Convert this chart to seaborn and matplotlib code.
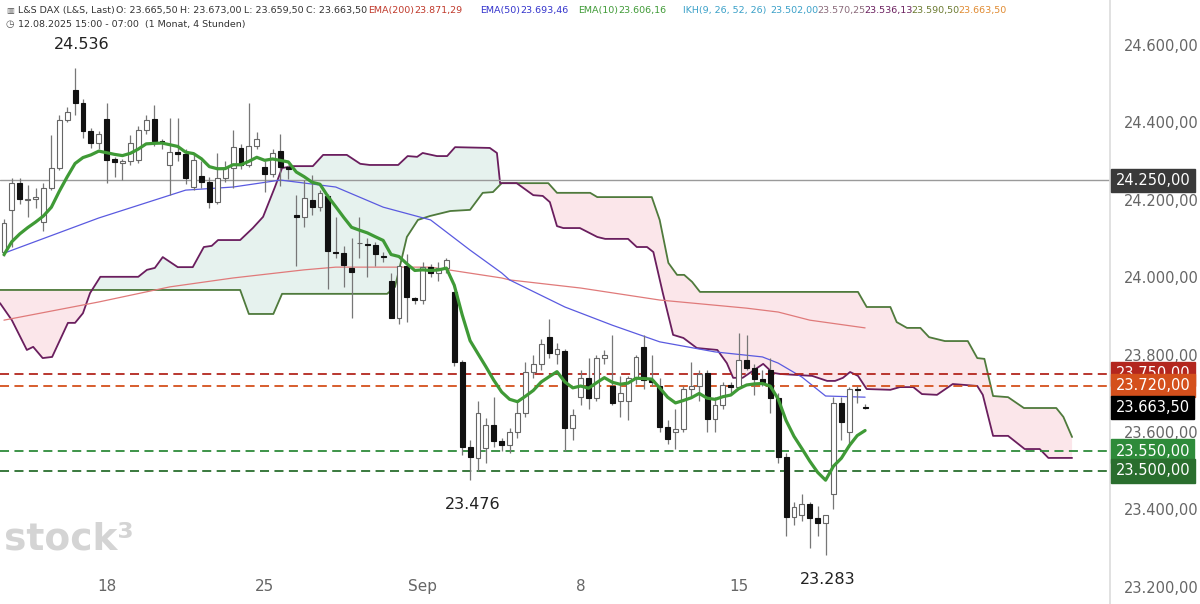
import numpy as np
import pandas as pd
import matplotlib
matplotlib.use("Agg")
import matplotlib.pyplot as plt
import seaborn as sns

# ---------------- data (4h candles) ----------------
opens = [24065,24174,24243,24200,24203,24143,24230,24282,24406,24484,24450,24378,24347,24410,24306,24296,24300,24303,24380,24408,
         24352,24290,24323,24318,24233,24262,24246,24194,24256,24282,24334,24290,24339,24285,24267,24325,24285,24160,24155,24200,
         24181,24210,24066,24062,24025,24088,24086,24083,24055,23990,23895,24030,23945,23940,24026,24010,24025,23962,23780,23560,
         23533,23558,23618,23577,23566,23600,23650,23755,23775,23845,23802,23810,23610,23690,23740,23688,23790,23720,23680,23680,
         23740,23820,23735,23720,23612,23600,23608,23710,23720,23752,23633,23670,23722,23715,23785,23765,23737,23760,23688,23535,
         23380,23385,23415,23378,23365,23440,23675,23600,23710,23665]
highs = [24150,24256,24256,24238,24230,24243,24367,24419,24440,24540,24460,24385,24378,24450,24310,24305,24367,24390,24420,24445,
         24356,24411,24411,24330,24320,24300,24260,24320,24300,24380,24345,24450,24375,24300,24330,24370,24290,24212,24250,24265,
         24225,24215,24155,24080,24100,24155,24100,24090,24065,24010,24030,24060,23950,24040,24035,24040,24050,23965,23785,23580,
         23680,23635,23690,23585,23610,23680,23780,23800,23840,23892,23830,23815,23660,23760,23790,23800,23812,23850,23745,23745,
         23800,23850,23800,23740,23630,23660,23720,23780,23760,23760,23690,23730,23730,23855,23850,23775,23760,23790,23700,23545,
         23420,23440,23420,23410,23380,23690,23690,23715,23720,23673]
lows = [24055,24078,24190,24156,24180,24120,24225,24276,24400,24420,24360,24335,24330,24243,24260,24250,24290,24295,24370,24340,
        24330,24212,24300,24240,24225,24230,24180,24190,24245,24230,24280,24285,24330,24220,24260,24235,24255,24030,24130,24160,
        24170,23970,24050,23975,23895,24050,24000,24030,24040,23895,23880,23885,23930,23930,24000,23990,24010,23770,23540,23476,
        23500,23520,23560,23550,23545,23585,23640,23740,23760,23790,23775,23550,23580,23670,23660,23680,23775,23670,23640,23630,
        23725,23710,23720,23600,23570,23555,23600,23690,23680,23600,23600,23660,23700,23710,23760,23695,23720,23650,23520,23330,
        23360,23370,23300,23330,23283,23400,23580,23560,23675,23659]
closes = [24140,24243,24202,24201,24207,24230,24282,24406,24427,24450,24378,24347,24370,24303,24298,24300,24347,24380,24405,24352,
          24350,24323,24318,24256,24303,24246,24194,24256,24282,24336,24290,24339,24357,24267,24321,24285,24280,24155,24205,24181,
          24217,24068,24062,24031,24013,24088,24083,24060,24052,23895,24030,23950,23940,24026,24010,24025,24045,23780,23560,23535,
          23650,23618,23577,23566,23600,23650,23755,23775,23828,23804,23815,23610,23645,23740,23688,23790,23800,23675,23700,23740,
          23795,23735,23730,23612,23582,23608,23710,23720,23750,23633,23670,23722,23715,23785,23765,23737,23730,23688,23535,23380,
          23405,23415,23378,23365,23385,23675,23625,23710,23708,23663]
ema10_seed = 24040

ema50_idx = [0,12,23,29,35,42,48,54,59,63,64,71,77,83,90,96,98,101,104,109]
ema50_val = [24062,24153,24225,24233,24251,24233,24181,24148,24070,24011,23993,23923,23876,23833,23807,23794,23778,23742,23693,23690]
ema200_idx = [0,12,21,29,38,42,54,63,64,73,83,94,98,102,109]
ema200_val = [23889,23936,23975,23998,24019,24026,24026,23998,23993,23972,23941,23920,23910,23889,23869]

spanA_idx = [-0.5,29.9,31.0,34.1,35.2,48.5,49.5,51.0,52.4,53.9,56.5,59.0,60.6,61.9,63.0,68.9,70.0,74.2,75.1,82.0,83.0,84.1,85.2,
             86.1,87.1,88.1,108.1,109.2,112.2,113.0,114.3,116.0,117.1,119.1,122.0,123.2,124.1,125.2,127.1,129.1,133.2,134.1,135.2]
spanA_val = [23967,23967,23905,23905,23957,23957,23975,24104,24148,24158,24171,24174,24218,24220,24243,24243,24218,24218,24207,
             24207,24148,24037,24006,24006,23988,23962,23962,23923,23923,23884,23869,23869,23845,23835,23835,23791,23789,23693,
             23690,23662,23662,23639,23587]
spanB_idx = [-0.5,1.0,2.9,3.7,4.9,6.1,8.1,9.0,10.0,10.9,12.2,17.0,18.1,19.1,20.1,22.0,23.9,25.3,26.3,27.1,29.9,31.5,32.8,34.3,
             35.2,36.6,39.1,40.4,43.4,45.1,46.3,49.9,51.1,52.3,53.0,54.8,56.1,57.1,61.5,62.4,62.8,64.9,67.0,68.2,69.1,70.0,70.8,
             72.9,75.1,76.1,79.0,80.1,81.4,82.2,83.4,84.7,86.0,87.7,90.3,91.5,92.3,93.5,96.1,97.3,98.2,102.3,104.2,105.2,106.2,
             107.1,108.1,109.2,112.2,113.4,115.1,116.2,118.1,120.1,123.2,123.9,125.2,127.1,129.2,131.1,132.2,135.2]
spanB_val = [23933,23889,23812,23820,23791,23794,23882,23882,23907,23959,24001,24001,24019,24024,24052,24026,24026,24078,24081,
             24096,24096,24127,24156,24233,24282,24287,24287,24316,24316,24293,24290,24290,24313,24311,24321,24313,24313,24336,
             24334,24321,24243,24243,24212,24210,24194,24132,24127,24127,24104,24099,24099,24078,24078,24065,23959,23851,23843,
             23817,23812,23778,23740,23740,23776,23753,23750,23745,23732,23732,23740,23755,23745,23711,23709,23716,23716,23698,
             23696,23724,23719,23696,23590,23590,23556,23556,23533,23533]

ytick_vals = [23200,23400,23600,23800,24000,24200,24400,24600]
xtick_idx = [13,33,53,73,93]
xtick_lab = ["18","25","Sep","8","15"]
levels = [(24250,"24.250,00","#3a3a3a"),(23750,"23.750,00","#b3261e"),(23720,"23.720,00","#d4501c"),
          (23663.5,"23.663,50","#000000"),(23550,"23.550,00","#2e8b3a"),(23500,"23.500,00","#2a6e2e")]
extremes = [(9,24536,"24.536","top"),(59,23476,"23.476","bot"),(104,23283,"23.283","bot")]

# ---------------- figure ----------------
sns.set_theme(style="white")
fig = plt.figure(figsize=(12,6.04), dpi=100)
ax = fig.add_axes([0,0,1110/1200,1])
ymin = 24600-(604-45)*200/77.4
ymax = 24600+45*200/77.4
ax.set_ylim(ymin,ymax)
ax.set_xlim(-0.5,140)

n = len(closes)
idx = np.arange(n)
df = pd.DataFrame(dict(i=idx,o=opens,h=highs,l=lows,c=closes))

# cloud
grid = np.linspace(-0.5,135.2,1500)
a = np.interp(grid,spanA_idx,spanA_val)
b = np.interp(grid,spanB_idx,spanB_val)
ax.fill_between(grid,a,b,where=b>=a,color="#e6f2ee",interpolate=True,lw=0,zorder=1)
ax.fill_between(grid,a,b,where=b<a,color="#fbe6ea",interpolate=True,lw=0,zorder=1)
sns.lineplot(x=spanA_idx,y=spanA_val,ax=ax,color="#4f7a3c",lw=1.3,zorder=2)
sns.lineplot(x=spanB_idx,y=spanB_val,ax=ax,color="#6a1e5e",lw=1.3,zorder=2)

# EMAs
sns.lineplot(x=ema200_idx,y=ema200_val,ax=ax,color="#e07a7a",lw=0.9,zorder=3)
sns.lineplot(x=ema50_idx,y=ema50_val,ax=ax,color="#5a5ae0",lw=0.9,zorder=3)
ema10 = pd.Series([ema10_seed]+closes).ewm(span=10,adjust=False).mean().values[1:]
sns.lineplot(x=idx,y=ema10,ax=ax,color="#3f9a36",lw=2.3,zorder=6)

# levels
for v,lab,col in levels:
    if v == 24250:
        ax.axhline(v,color="#9a9a9a",lw=1,zorder=2)
    elif v != 23663.5:
        ax.axhline(v,color=col,lw=1.3,ls=(0,(5,3)),zorder=4)
    ax.annotate(lab,xy=(1.0,v),xycoords=("axes fraction","data"),xytext=(4,0),textcoords="offset points",
                va="center",ha="left",fontsize=10.5,color="white",annotation_clip=False,
                bbox=dict(boxstyle="square,pad=0.3",fc=col,ec=col))

# candles
w = 0.62
for r in df.itertuples():
    up = r.c >= r.o
    ax.vlines(r.i,r.l,r.h,color="#777777",lw=0.9,zorder=5)
    bot = min(r.o,r.c); hgt = max(abs(r.c-r.o),1.5)
    ax.bar(r.i,hgt,bottom=bot,width=w,color="white" if up else "#111111",
           edgecolor="#666666" if up else "#111111",lw=0.8,zorder=5)

for i,v,t,pos in extremes:
    ax.text(i+(0.8 if pos=="top" else 0.3),v+(45 if pos=="top" else -45),t,ha="center",
            va="bottom" if pos=="top" else "top",fontsize=11.5,color="#222")

# axes styling
ax.yaxis.tick_right()
ax.set_yticks(ytick_vals)
ax.set_yticklabels([f"{v:,.2f}".replace(",","X").replace(".",",").replace("X",".") for v in ytick_vals])
ax.tick_params(axis="y",length=0,pad=10,labelsize=10.5,labelcolor="#666")
ax.set_xticks(xtick_idx)
ax.set_xticklabels(xtick_lab)
ax.tick_params(axis="x",direction="in",length=0,pad=-18,labelsize=11,labelcolor="#666")
for s in ["top","left","bottom"]:
    ax.spines[s].set_visible(False)
ax.spines["right"].set_color("#dddddd")
ax.set_xlabel(""); ax.set_ylabel("")

# header
fs = 6.8
hy = 1-10/604
parts = [(18,"L&S DAX (L&S, Last)","#333"),(116,"O: 23.665,50","#333"),(180,"H: 23.673,00","#333"),
         (244,"L: 23.659,50","#333"),(306,"C: 23.663,50","#333"),
         (368,"EMA(200)","#c0392b"),(414,"23.871,29","#c0392b"),
         (480,"EMA(50)","#3333cc"),(520,"23.693,46","#3333cc"),
         (578,"EMA(10)","#3f9a36"),(618,"23.606,16","#3f9a36"),
         (683,"IKH(9, 26, 52, 26)","#3aa0c8"),(770,"23.502,00","#3aa0c8"),(817,"23.570,25","#8a6a7a"),
         (864,"23.536,13","#6a1e5e"),(911,"23.590,50","#6b7a30"),(958,"23.663,50","#e08a30")]
for x,t,c in parts:
    fig.text(x/1200,hy,t,fontsize=fs,color=c,va="center",ha="left")
fig.text(6/1200,hy,"▥",fontsize=6,color="#555",va="center")
fig.text(18/1200,1-24/604,"12.08.2025 15:00 - 07:00  (1 Monat, 4 Stunden)",fontsize=fs,color="#333",va="center")
fig.text(6/1200,1-24/604,"◷",fontsize=7,color="#555",va="center")
fig.text(4/1200,1-540/604,"stock³",fontsize=27,color="#d4d4d4",va="center",fontweight="bold")

fig.savefig("out.png",dpi=100)
